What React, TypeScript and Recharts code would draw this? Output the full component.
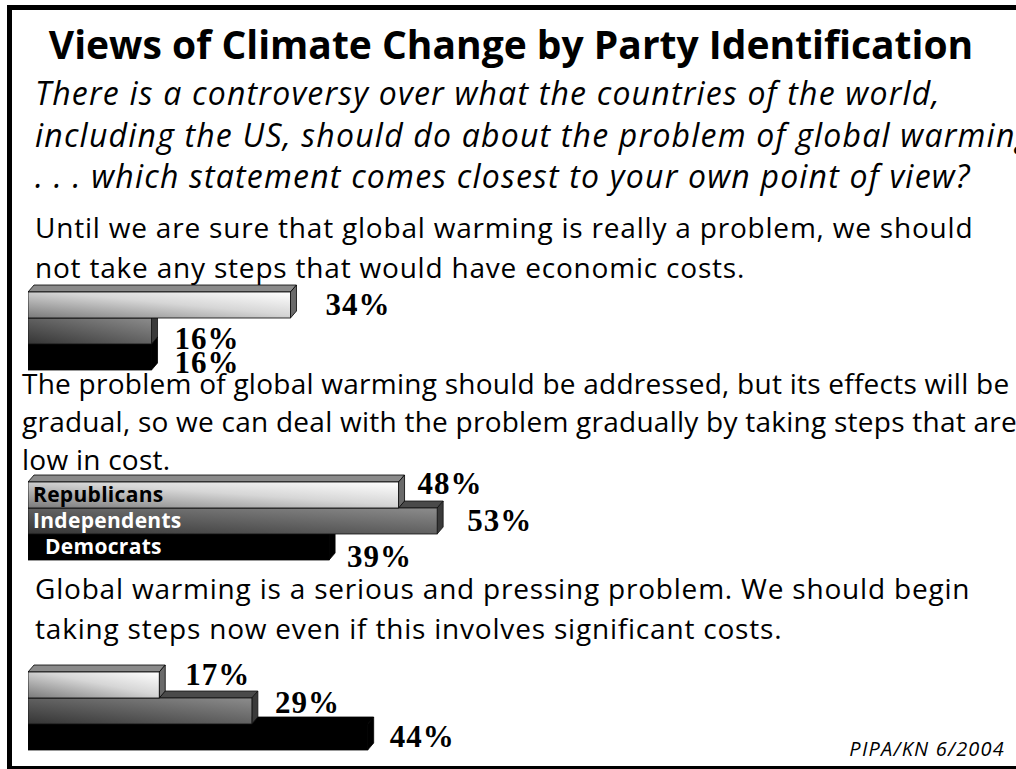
import { BarChart, Bar, XAxis, YAxis, LabelList } from "recharts";

// Survey shares (%) by party, one list per answer option
const PARTIES = ["Republicans", "Independents", "Democrats"];
const NO_COSTLY_STEPS = [34, 16, 16];
const GRADUAL_LOW_COST = [48, 53, 39];
const ACT_NOW = [17, 29, 44];

const TITLE = "Views of Climate Change by Party Identification";
const QUESTION_LINES = [
  "There is a controversy over what the countries of the world,",
  "including the US, should do about the problem of global warming",
  ". . . which statement comes closest to your own point of view?",
];
const STATEMENT_1 = [
  "Until we are sure that global warming is really a problem, we should",
  "not take any steps that would have economic costs.",
];
const STATEMENT_2 = [
  "The problem of global warming should be addressed, but its effects will be",
  "gradual, so we can deal with the problem gradually by taking steps that are",
  "low in cost.",
];
const STATEMENT_3 = [
  "Global warming is a serious and pressing problem. We should begin",
  "taking steps now even if this involves significant costs.",
];
const SOURCE = "PIPA/KN 6/2004";

// ---- layout ----
const SANS = "'Open Sans', Lato, sans-serif";
const PLOT_LEFT = 28;
const PLOT_WIDTH = 772; // 0..100%
const BAND = 26;
const M_TOP = 24;
const M_BOTTOM = 24;
const DX = 6; // depth of the 3d faces
const DY = 7;

// per-label offsets [dx from bar end, dy from bar centre]
type Nudge = Record<string, [number, number]>;
const NUDGE_1: Nudge = { Republicans: [35, 0], Independents: [23, 8], Democrats: [23, 6] };
const NUDGE_2: Nudge = { Republicans: [19, -11], Independents: [30, 0], Democrats: [18, 10] };
const NUDGE_3: Nudge = { Republicans: [26, -10], Independents: [23, -8], Democrats: [22, 0] };

const NAME_INSET: Record<string, number> = { Republicans: 5, Independents: 5, Democrats: 17 };
const NAME_FILL: Record<string, string> = { Republicans: "#000", Independents: "#fff", Democrats: "#fff" };

const FACE: Record<string, { top: string; side: string; stroke: string }> = {
  Republicans: { top: "#8a8a8a", side: "#6a6a6a", stroke: "#000" },
  Independents: { top: "#4a4a4a", side: "#3a3a3a", stroke: "#111" },
  Democrats: { top: "#000", side: "#000", stroke: "#000" },
};

function Block3D(props: any) {
  const { x, y, width, height, payload, gid } = props;
  if (!payload || width <= 0) return null;
  const party = payload.party as string;
  const f = FACE[party];
  const front =
    party === "Republicans" ? `url(#${gid}-rep)` : party === "Independents" ? `url(#${gid}-ind)` : "#000";
  const r = x + width;
  return (
    <g>
      <polygon
        points={`${x},${y} ${x + DX},${y - DY} ${r + DX},${y - DY} ${r},${y}`}
        fill={f.top}
        stroke={f.stroke}
        strokeWidth={0.8}
      />
      <polygon
        points={`${r},${y} ${r + DX},${y - DY} ${r + DX},${y + height - DY} ${r},${y + height}`}
        fill={f.side}
        stroke={f.stroke}
        strokeWidth={0.8}
      />
      <rect x={x} y={y} width={width} height={height} fill={front} stroke={f.stroke} strokeWidth={0.8} />
    </g>
  );
}

function StatementBars({ gid, values, plotTop, nudge, showNames }: {
  gid: string;
  values: number[];
  plotTop: number;
  nudge: Nudge;
  showNames?: boolean;
}) {
  // drawn bottom-up so upper bars cover the top faces of the ones below
  const rows = PARTIES.map((party, i) => ({ party, value: values[i] })).reverse();

  const valueLabel = (p: any) => {
    const vb = p.viewBox ?? p;
    const row = rows[p.index];
    if (!row) return null;
    const [dx, dy] = nudge[row.party];
    return (
      <text
        x={vb.x + vb.width + dx}
        y={vb.y + vb.height / 2 + dy + 10}
        fontFamily="'Liberation Serif', 'Times New Roman', serif"
        fontWeight="bold"
        fontSize={31}
        letterSpacing={1}
        fill="#000"
      >
        {`${row.value}%`}
      </text>
    );
  };

  const nameLabel = (p: any) => {
    const vb = p.viewBox ?? p;
    const name = String(p.value);
    return (
      <text
        x={vb.x + NAME_INSET[name]}
        y={vb.y + vb.height / 2 + 7}
        fontFamily={SANS}
        fontWeight="bold"
        fontSize={21}
        letterSpacing={0.3}
        fill={NAME_FILL[name]}
      >
        {name}
      </text>
    );
  };

  return (
    <div style={{ position: "absolute", left: PLOT_LEFT, top: plotTop - M_TOP }}>
      <BarChart
        width={PLOT_WIDTH}
        height={M_TOP + BAND * 3 + M_BOTTOM}
        data={rows}
        layout="vertical"
        margin={{ top: M_TOP, right: 0, bottom: M_BOTTOM, left: 0 }}
        barCategoryGap={0}
        barGap={0}
      >
        <defs>
          <linearGradient id={`${gid}-rep`} x1="0" y1="1" x2="1" y2="0">
            <stop offset="0%" stopColor="#7a7a7a" />
            <stop offset="55%" stopColor="#d6d6d6" />
            <stop offset="100%" stopColor="#ffffff" />
          </linearGradient>
          <linearGradient id={`${gid}-ind`} x1="0" y1="1" x2="1" y2="0">
            <stop offset="0%" stopColor="#353535" />
            <stop offset="100%" stopColor="#8c8c8c" />
          </linearGradient>
        </defs>
        <XAxis type="number" domain={[0, 100]} hide />
        <YAxis type="category" dataKey="party" hide reversed />
        <Bar dataKey="value" isAnimationActive={false} shape={(p: any) => <Block3D {...p} gid={gid} />}>
          <LabelList dataKey="value" content={valueLabel} />
          {showNames && <LabelList dataKey="party" content={nameLabel} />}
        </Bar>
      </BarChart>
    </div>
  );
}

function Lines({ lines, x, y0, step, size, spacing, italic }: {
  lines: string[];
  x: number;
  y0: number;
  step: number;
  size: number;
  spacing: number;
  italic?: boolean;
}) {
  return (
    <>
      {lines.map((t, i) => (
        <text
          key={i}
          x={x}
          y={y0 + i * step}
          fontFamily={SANS}
          fontSize={size}
          letterSpacing={spacing}
          fontStyle={italic ? "italic" : "normal"}
          fill="#000"
        >
          {t}
        </text>
      ))}
    </>
  );
}

export default function App() {
  return (
    <div
      style={{
        position: "absolute",
        left: 0,
        top: 0,
        width: 1016,
        height: 769,
        background: "#fff",
        overflow: "hidden",
      }}
    >
      {/* frame */}
      <div
        style={{
          position: "absolute",
          left: 7,
          top: 5,
          width: 1040,
          height: 766,
          border: "5px solid #000",
          boxSizing: "border-box",
        }}
      />

      <svg width={1016} height={769} style={{ position: "absolute", left: 0, top: 0 }}>
        <text x={511} y={59} textAnchor="middle" fontFamily={SANS} fontWeight="bold" fontSize={39} fill="#000">
          {TITLE}
        </text>
        <Lines lines={QUESTION_LINES} x={35} y0={105} step={41.5} size={32} spacing={1.2} italic />
        <Lines lines={STATEMENT_1} x={35} y0={238} step={40} size={28} spacing={0.8} />
        <Lines lines={STATEMENT_2} x={22} y0={394} step={38} size={28} spacing={0.25} />
        <Lines lines={STATEMENT_3} x={35} y0={599} step={40} size={28} spacing={0.8} />
        <text
          x={1005}
          y={756}
          textAnchor="end"
          fontFamily={SANS}
          fontStyle="italic"
          fontSize={20}
          letterSpacing={1.2}
          fill="#000"
        >
          {SOURCE}
        </text>
      </svg>

      <StatementBars gid="s1" values={NO_COSTLY_STEPS} plotTop={292} nudge={NUDGE_1} />
      <StatementBars gid="s2" values={GRADUAL_LOW_COST} plotTop={482} nudge={NUDGE_2} showNames />
      <StatementBars gid="s3" values={ACT_NOW} plotTop={672} nudge={NUDGE_3} />
    </div>
  );
}
